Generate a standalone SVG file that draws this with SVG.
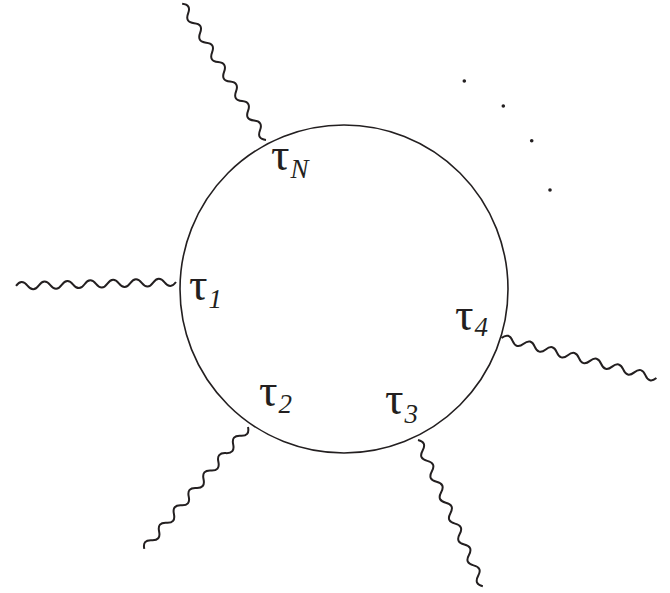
<svg xmlns="http://www.w3.org/2000/svg" xmlns:xlink="http://www.w3.org/1999/xlink" width="670" height="593" viewBox="0 0 670 593">
<style>
.ring{fill:none;stroke:#231f20;stroke-width:1.6}
.wv{fill:none;stroke:#231f20;stroke-width:2}
.t{font-family:"Liberation Serif","Times New Roman",serif;font-size:46px;fill:#231f20}
.s{font-size:27px;font-style:italic}
.dot{fill:#231f20}
</style>
<defs>
<path id="wave" d="M0,0 q5.71,-7.5 11.43,0 t11.43,0 t11.43,0 t11.43,0 t11.43,0 t11.43,0 t11.43,0 t11.43,0 t11.43,0 t11.43,0 t11.43,0 t11.43,0 t11.43,0 t11.43,0"/>
</defs>
<g id="loop"><circle class="ring" cx="344" cy="289" r="164"/></g>
<g id="connectors">
<use xlink:href="#wave" class="wv" transform="translate(266,140) rotate(-121.6)"/>
<use xlink:href="#wave" class="wv" transform="translate(176,282) rotate(178.6)"/>
<use xlink:href="#wave" class="wv" transform="translate(501.5,338) rotate(14.5)"/>
<use xlink:href="#wave" class="wv" transform="translate(248,427) rotate(130.4)"/>
<use xlink:href="#wave" class="wv" transform="translate(418,440) rotate(66.1)"/>
</g>
<g id="vN"><text class="t" x="271" y="170">τ<tspan class="s" dx="1" dy="8">N</tspan></text></g>
<g id="v1"><text class="t" x="189" y="300">τ<tspan class="s" dx="1" dy="8">1</tspan></text></g>
<g id="v4"><text class="t" x="455" y="330">τ<tspan class="s" dx="1" dy="6">4</tspan></text></g>
<g id="v2"><text class="t" x="259" y="406">τ<tspan class="s" dx="1" dy="7">2</tspan></text></g>
<g id="v3"><text class="t" x="385" y="414">τ<tspan class="s" dx="1" dy="9">3</tspan></text></g>
<g id="ellipsis">
<circle class="dot" cx="464.3" cy="81" r="1.8"/>
<circle class="dot" cx="503.3" cy="106" r="1.8"/>
<circle class="dot" cx="531.7" cy="140.7" r="1.8"/>
<circle class="dot" cx="550" cy="190" r="1.8"/>
</g>
</svg>
